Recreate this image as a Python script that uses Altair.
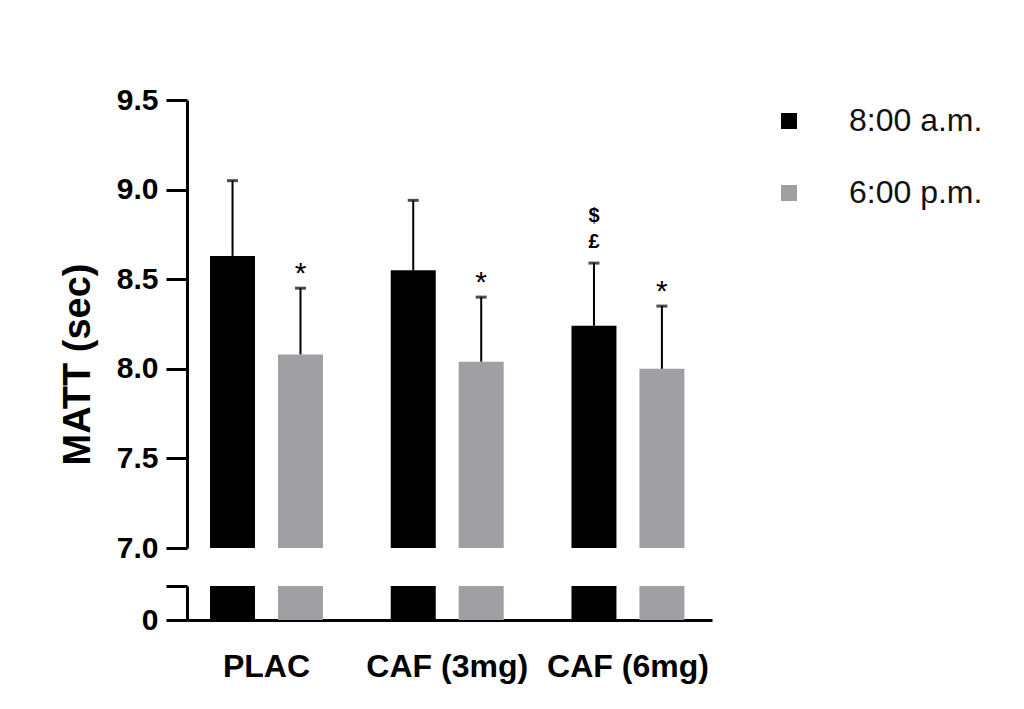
import altair as alt
import pandas as pd

groups = ["PLAC", "CAF (3mg)", "CAF (6mg)"]
times = ["8:00 a.m.", "6:00 p.m."]
mean_am = [8.63, 8.55, 8.24]
sd_am = [0.42, 0.39, 0.35]
mean_pm = [8.08, 8.04, 8.00]
sd_pm = [0.37, 0.36, 0.35]
star_am = ["", "", ""]
star_pm = ["*", "*", "*"]
pound_am = ["", "", "£"]
dollar_am = ["", "", "$"]
colors = ["#000000", "#a0a0a4"]
top_ticks = [7.0, 7.5, 8.0, 8.5, 9.0, 9.5]

rows = []
for i, g in enumerate(groups):
    rows.append(dict(group=g, time=times[0], mean=mean_am[i], sd=sd_am[i],
                     star=star_am[i], pound=pound_am[i], dollar=dollar_am[i]))
    rows.append(dict(group=g, time=times[1], mean=mean_pm[i], sd=sd_pm[i],
                     star=star_pm[i], pound="", dollar=""))
df = pd.DataFrame(rows)
df["top"] = df["mean"] + df["sd"]

FONT = "Liberation Sans"

xscale = alt.Scale(paddingInner=0.375, paddingOuter=0.14, align=0.455)
xo = alt.XOffset("time:N", sort=times, scale=alt.Scale(paddingInner=0.338, paddingOuter=0))
color = alt.Color(
    "time:N", sort=times,
    scale=alt.Scale(domain=times, range=colors),
    legend=alt.Legend(
        title=None, orient="right", offset=56, padding=5, symbolType="square",
        symbolSize=256, symbolStrokeWidth=0, labelFontSize=32, labelFont=FONT,
        labelOffset=44, rowPadding=40, labelColor="#111111",
    ),
)

ytop = alt.Scale(domain=[7, 9.5], nice=False, zero=False)
top_base = alt.Chart(df).encode(
    x=alt.X("group:N", sort=groups, scale=xscale, axis=None),
    xOffset=xo,
)
bars_top = top_base.mark_bar(clip=True).encode(
    y=alt.Y("mean:Q", scale=ytop,
            axis=alt.Axis(values=top_ticks, format=".1f", title="MATT (sec)",
                          titleX=-109, titleY=264, titleAngle=270,
                          titleAlign="center", titleBaseline="middle")),
    color=color,
)
err = top_base.mark_rule(strokeWidth=2, color="black").encode(
    y=alt.Y("mean:Q", scale=ytop), y2="top:Q")
cap = top_base.mark_tick(size=11, thickness=3, color="black").encode(
    y=alt.Y("top:Q", scale=ytop))
star = top_base.transform_filter("datum.star != ''").mark_text(
    font=FONT, fontSize=30, baseline="middle", dy=-14, color="black"
).encode(y=alt.Y("top:Q", scale=ytop), text="star:N")
pound = top_base.transform_filter("datum.pound != ''").mark_text(
    font=FONT, fontSize=20, fontWeight="bold", baseline="middle", dy=-21, color="black"
).encode(y=alt.Y("top:Q", scale=ytop), text="pound:N")
dollar = top_base.transform_filter("datum.dollar != ''").mark_text(
    font=FONT, fontSize=20, fontWeight="bold", baseline="middle", dy=-47, color="black"
).encode(y=alt.Y("top:Q", scale=ytop), text="dollar:N")

top = alt.layer(bars_top, err, cap, star, pound, dollar).properties(width=525, height=448)

ybot = alt.Scale(domain=[0, 1], nice=False)
bot = alt.Chart(df).mark_bar(clip=True).encode(
    x=alt.X("group:N", sort=groups, scale=xscale,
            axis=alt.Axis(title=None, ticks=False, labelPadding=31, labelAngle=0,
                          labelFontSize=32, labelFontWeight="bold", labelFont=FONT,
                          labelColor="black", domainWidth=3, domainColor="black")),
    xOffset=xo,
    y=alt.Y("mean:Q", scale=ybot,
            axis=alt.Axis(values=[0, 1], labelExpr="datum.value == 0 ? '0' : ''",
                          title=None)),
    color=color,
).properties(width=525, height=34)

chart = alt.vconcat(top, bot, spacing=21).properties(
    padding={"left": 51, "top": 77, "right": 5, "bottom": 5}
).configure_view(stroke=None).configure_axis(
    grid=False, domainColor="black", domainWidth=3, tickColor="black", tickWidth=3,
    tickSize=21, labelFont=FONT, labelFontSize=30, labelFontWeight="bold",
    labelColor="black", labelPadding=8, titleFont=FONT, titleFontSize=38,
    titleFontWeight="bold", titleColor="black",
).configure_axisY(labelBaseline="middle")

chart.save("out.html", embed_options={"renderer": "svg", "actions": False})
